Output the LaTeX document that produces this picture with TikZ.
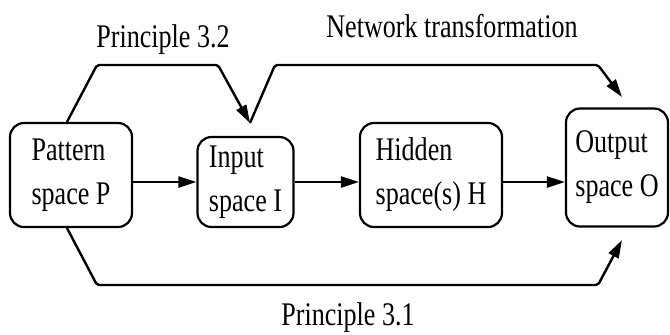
\documentclass[tikz,border=0pt]{standalone}
\usepackage{fontspec}
\setmainfont{Liberation Serif}[FakeStretch=0.79]
\usepackage{tikz}
\usetikzlibrary{arrows.meta,positioning,calc}
\tikzstyle{spacebox}=[draw,rounded corners=7pt,align=left,line width=1.1pt,inner sep=0pt]
\tikzstyle{flow}=[line width=1.2pt,-{Triangle[length=9pt,width=5.5pt]}]
\tikzstyle{label}=[anchor=base,inner sep=0pt]

\begin{document}
\begin{tikzpicture}[x=0.5pt,y=-0.5pt,font=\fontsize{16.5}{22}\selectfont]
\useasboundingbox (0,0) rectangle (670,334);
% the four spaces
\draw (71,175) node [spacebox, minimum width=61pt, minimum height=52pt] (pat) {Pattern\\space P};
\draw (245.5,182) node [spacebox, minimum width=48pt, minimum height=45pt] (inp) {Input\\space I};
\draw (431,175) node [spacebox, minimum width=71pt, minimum height=52pt] (hid) {Hidden\\space(s) H};
\draw (617,167.5) node [spacebox, minimum width=51pt, minimum height=59pt] (out) {Output\\space O};
\draw[flow] (pat.east |- inp) -- (inp);
\draw[flow] (inp) -- (hid.west |- inp);
\draw[flow] (hid.east |- inp) -- (out.west |- inp);
% bends of the upper and lower routes
\coordinate (tipI) at (250,123);
\coordinate (tipOup) at (622,97);
\coordinate (tipOdn) at (622,240);
\draw[flow, rounded corners=1pt] ([xshift=-2pt]pat.north) -- (97,65) -- (218,65) -- (tipI);
\draw[flow, rounded corners=1pt] (tipI) -- (275,65) -- (598,65) -- (tipOup);
\draw[flow, rounded corners=1pt] ([xshift=-2pt]pat.south) -- (97,285) -- (598,285) -- (tipOdn);
% labels
\node (l32) at (163,47) [label] {Principle 3.2};
\node (lnet) at (452,37) [label] {Network transformation};
\node (l31) at (348,325) [label] {Principle 3.1};
\end{tikzpicture}
\end{document}
